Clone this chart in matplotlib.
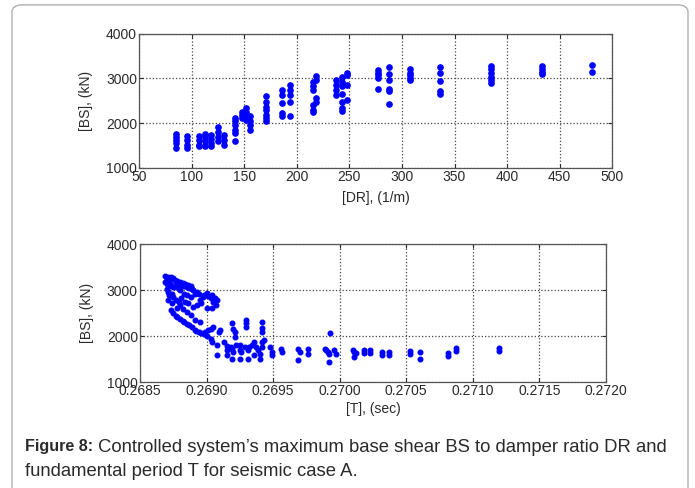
import matplotlib
matplotlib.use("Agg")
from matplotlib import pyplot as plt
from matplotlib.patches import FancyBboxPatch

plt.rcParams['font.family'] = ['Liberation Sans', 'DejaVu Sans']

# top panel: damper ratio DR vs base shear BS
dr_cols = [85, 96, 107, 113, 118, 125, 131, 141, 148, 152, 156, 171, 186, 194, 215, 218,
           237, 243, 248, 277, 288, 308, 336, 385, 433, 481]
bs_cols = [
    [1440, 1560, 1620, 1690, 1760],
    [1440, 1520, 1630, 1710],
    [1490, 1520, 1630, 1720],
    [1500, 1590, 1690, 1760],
    [1480, 1560, 1650, 1740],
    [1590, 1700, 1810, 1920],
    [1520, 1630, 1740],
    [1610, 1780, 1850, 1960, 2040, 2110],
    [2110, 2190, 2260],
    [2060, 2150, 2240, 2330],
    [1850, 1960, 2040, 2150],
    [2040, 2110, 2190, 2300, 2370, 2480, 2600],
    [2150, 2220, 2450, 2630, 2740],
    [2160, 2480, 2630, 2740, 2860],
    [2260, 2300, 2410, 2740, 2820, 2930],
    [2480, 2560, 2970, 3060],
    [2630, 2740, 2860, 2970],
    [2280, 2330, 2480, 2650, 2820, 2930, 3040],
    [2520, 2860, 3080, 3130],
    [2760, 3020, 3080, 3130, 3190],
    [2420, 2720, 2770, 2960, 3100, 3250],
    [2960, 3020, 3080, 3130, 3200],
    [2650, 2710, 2950, 3110, 3250],
    [2890, 2960, 3040, 3130, 3200, 3280],
    [3100, 3150, 3200, 3280],
    [3150, 3300],
]
dr = [d for d, col in zip(dr_cols, bs_cols) for _ in col]
bs_top = [b for col in bs_cols for b in col]

# bottom panel: fundamental period T vs base shear BS
t_pts = [
    0.26869, 0.26870, 0.26871, 0.26872, 0.26873, 0.26874, 0.26875, 0.26876, 0.26877, 0.26878,
    0.26879, 0.26880, 0.26881, 0.26882, 0.26883, 0.26884, 0.26885, 0.26886, 0.26887, 0.26888,
    0.26889, 0.26890, 0.26869, 0.26870, 0.26871, 0.26872, 0.26873, 0.26875, 0.26877, 0.26879,
    0.26880, 0.26870, 0.26871, 0.26872, 0.26874, 0.26875, 0.26877, 0.26879, 0.26881, 0.26883,
    0.26885, 0.26888, 0.26891, 0.26893, 0.26894, 0.26895, 0.26897, 0.26898, 0.26900, 0.26901,
    0.26903, 0.26904, 0.26905, 0.26906, 0.26907, 0.26908, 0.26904, 0.26900, 0.26896, 0.26893,
    0.26890, 0.26886, 0.26884, 0.26880, 0.26878, 0.26874, 0.26871, 0.26873, 0.26875, 0.26877,
    0.26878, 0.26880, 0.26882, 0.26883, 0.26885, 0.26887, 0.26889, 0.26891, 0.26892, 0.26894,
    0.26896, 0.26898, 0.26899, 0.26901, 0.26903, 0.26905, 0.26891, 0.26895, 0.26888, 0.26885,
    0.26882,
    0.26900, 0.26903, 0.26904, 0.26908, 0.26908, 0.26913, 0.26915, 0.26915, 0.26915, 0.26918,
    0.26909, 0.26910, 0.26919, 0.26920, 0.26921, 0.26921, 0.26922, 0.26919, 0.26920, 0.26919,
    0.26925, 0.26925, 0.26925, 0.26926, 0.26929, 0.26930, 0.26930, 0.26930, 0.26931, 0.26931,
    0.26932, 0.26934, 0.26936, 0.26936, 0.26937, 0.26939, 0.26940, 0.26940, 0.26942, 0.26942,
    0.26942, 0.26942, 0.26942, 0.26943, 0.26948, 0.26949, 0.26949, 0.26956, 0.26957, 0.26969,
    0.26970, 0.26969, 0.26976, 0.26976, 0.26989, 0.26990, 0.26991, 0.26992, 0.26993, 0.26992,
    0.26996, 0.26997, 0.27010, 0.27011, 0.27012, 0.27011, 0.27018, 0.27018, 0.27023, 0.27023,
    0.27032, 0.27032, 0.27037, 0.27037, 0.27053, 0.27053, 0.27060, 0.27060, 0.27081, 0.27081,
    0.27087, 0.27087, 0.27120, 0.27120,
]
bs_pts = [
    3300, 3250, 3290, 3200, 3280, 3240, 3260, 3220, 3170, 3200,
    3140, 3180, 3110, 3150, 3090, 3130, 3060, 3100, 3050, 3080,
    3020, 3000, 3180, 3120, 3140, 3080, 3110, 3070, 3060, 3030,
    2990, 3030, 2960, 2900, 2910, 2850, 2780, 2740, 2820, 2920,
    2890, 2850, 2920, 2960, 2910, 2780, 2850, 2890, 2940, 2870,
    2820, 2890, 2740, 2820, 2670, 2780, 2600, 2600, 2710, 2670,
    2640, 2710, 2750, 2670, 2600, 2710, 2780, 2560, 2490, 2440,
    2420, 2380, 2330, 2310, 2260, 2230, 2200, 2130, 2110, 2090,
    2060, 2040, 2090, 2130, 2160, 2200, 2340, 2310, 2460, 2530,
    2580,
    1996, 1945, 1872, 1800, 1580, 1872, 1691, 1780, 1580, 1763,
    2090, 2141, 2272, 2163, 2090, 1980, 1800, 1727, 1654, 1509,
    1691, 1509, 1800, 1654, 1763, 2344, 2273, 2200, 1691, 1509,
    1763, 1800, 1872, 1580, 1763, 1691, 1618, 1509, 2310, 2164,
    2090, 1872, 1763, 1910, 1763, 1654, 1580, 1727, 1654, 1727,
    1654, 1473, 1727, 1618, 1727, 1691, 1654, 1436, 2070, 1618,
    1691, 1618, 1691, 1654, 1620, 1550, 1690, 1620, 1690, 1620,
    1650, 1580, 1650, 1580, 1670, 1600, 1660, 1490, 1630, 1560,
    1750, 1680, 1740, 1680,
]

dr_ticks = [50, 100, 150, 200, 250, 300, 350, 400, 450, 500]
t_ticks = [0.2685, 0.2690, 0.2695, 0.2700, 0.2705, 0.2710, 0.2715, 0.2720]
bs_ticks = [1000, 2000, 3000, 4000]

fig = plt.figure(figsize=(6.95, 4.88), dpi=100)

# outer frame
frame = FancyBboxPatch((12 / 695, -0.02), 676 / 695, 1.01, boxstyle="round,pad=0,rounding_size=0.015",
                       transform=fig.transFigure, fill=False, edgecolor='#b0b0b0', linewidth=1.0)
fig.patches.append(frame)

TXT = '#2a2a2a'


def style(ax):
    ax.set_facecolor('white')
    ax.grid(True, linestyle=':', color='#444444', linewidth=0.9)
    ax.tick_params(direction='in', top=True, right=True, length=3, labelsize=10,
                   colors=TXT, pad=1.5)
    for s in ax.spines.values():
        s.set_color('#555555')
        s.set_linewidth(0.9)
    ax.set_yticks(bs_ticks)
    ax.set_ylim(1000, 4000)
    ax.set_ylabel('[BS], (kN)', fontsize=10, color=TXT, labelpad=9)


ax1 = fig.add_axes([0.200, 0.656, 0.681, 0.275])
ax1.plot(dr, bs_top, linestyle='none', marker='o', markersize=3.8, color='#0000ff')
ax1.set_xlim(50, 500)
ax1.set_xticks(dr_ticks)
ax1.set_xlabel('[DR], (1/m)', fontsize=10, color=TXT, labelpad=5)
style(ax1)

ax2 = fig.add_axes([0.2014, 0.2172, 0.6705, 0.2828])
ax2.plot(t_pts, bs_pts, linestyle='none', marker='o', markersize=3.3, color='#0000ff')
ax2.set_xlim(0.2685, 0.2720)
ax2.set_xticks(t_ticks)
ax2.set_xticklabels(['%.4f' % t for t in t_ticks])
ax2.set_xlabel('[T], (sec)', fontsize=10, color=TXT, labelpad=3)
style(ax2)

# caption
fig.text(25 / 695, 1 - 447 / 488, 'Figure 8:', fontsize=11.6, fontweight='bold', va='center', color=TXT)
fig.text(98 / 695, 1 - 447 / 488, 'Controlled system\u2019s maximum base shear BS to damper ratio DR and',
         fontsize=13.3, va='center', color=TXT)
fig.text(25 / 695, 1 - 471 / 488, 'fundamental period T for seismic case A.', fontsize=13.3, va='center',
         color=TXT)

plt.savefig('out.png', dpi=100)
